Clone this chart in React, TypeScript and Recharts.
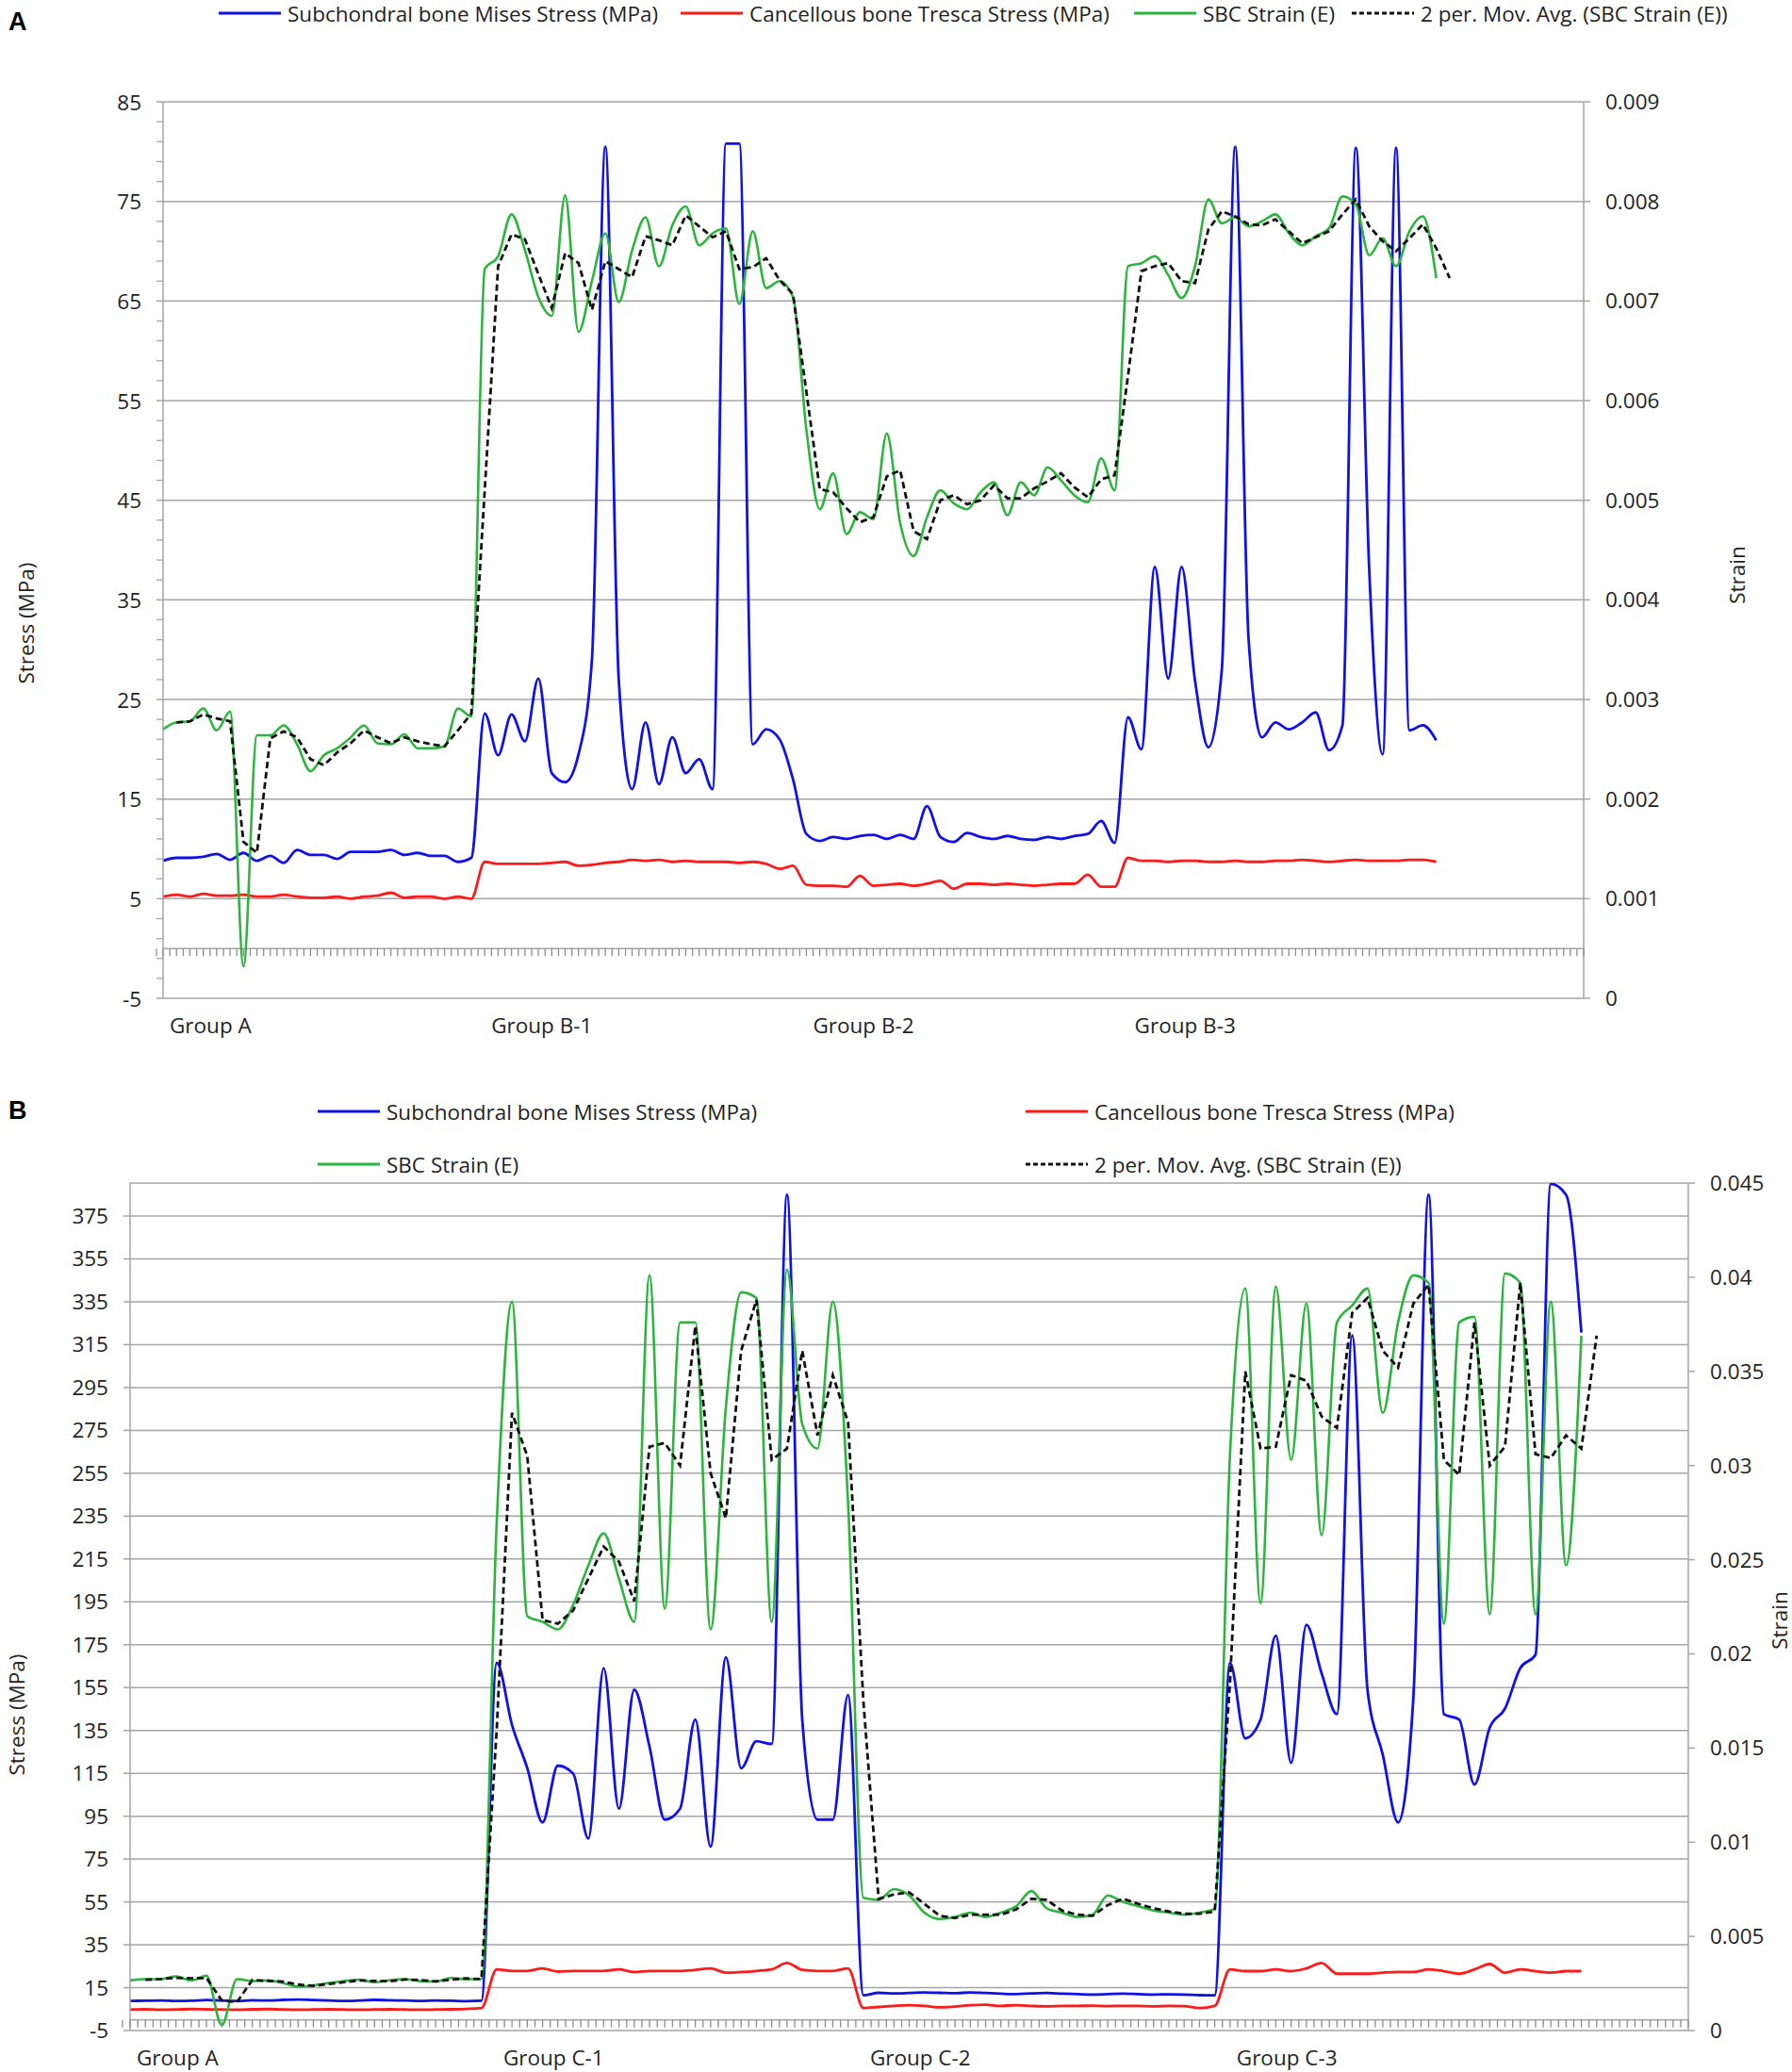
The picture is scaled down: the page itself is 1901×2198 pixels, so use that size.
import React from 'react';
import { ComposedChart, Line, XAxis, YAxis, CartesianGrid, ReferenceLine } from 'recharts';

const FONT = "'Open Sans', 'Noto Sans', sans-serif";
const TEXT = '#1f1f1f';
const GRID = '#a5a5a5';
const BLUE = '#1010e8';
const RED = '#ff1a1a';
const GREEN = '#2cb53c';

const seriesNames = [
  'Subchondral bone Mises Stress (MPa)',
  'Cancellous bone Tresca Stress (MPa)',
  'SBC Strain (E)',
  '2 per. Mov. Avg. (SBC Strain (E))',
];

// ---- panel A ----
const groupsA = ['Group A', 'Group B-1', 'Group B-2', 'Group B-3'];
const stressTicksA = [-5, 5, 15, 25, 35, 45, 55, 65, 75, 85];
const strainTicksA = [0, 0.001, 0.002, 0.003, 0.004, 0.005, 0.006, 0.007, 0.008, 0.009];

const misesA = [
  8.8, 9.1, 9.1, 9.2, 9.5, 8.9, 9.6, 8.8, 9.3, 8.6, 9.9, 9.4, 9.4, 9.0, 9.7, 9.7, 9.7, 9.9, 9.4, 9.6, 9.3, 9.3, 8.7, 9.1,
  23.6, 19.4, 23.5, 20.8, 27.1, 17.6, 16.7, 19.5, 29.0, 80.5, 27.0, 16.0, 22.7, 16.5, 21.2, 17.6, 19.0, 16.0, 80.8, 80.8, 20.5, 22.0, 21.0, 17.0,
  11.5, 10.8, 11.2, 11.0, 11.3, 11.4, 11.0, 11.4, 11.0, 14.3, 11.2, 10.7, 11.6, 11.2, 11.0, 11.3, 11.0, 10.9, 11.2, 11.0, 11.3, 11.5, 12.8, 10.6,
  23.2, 20.0, 38.3, 27.1, 38.3, 26.9, 20.2, 28.0, 80.5, 31.0, 21.2, 22.7, 22.0, 22.7, 23.7, 19.9, 22.4, 80.4, 38.0, 19.5, 80.4, 21.9, 22.4, 20.9,
];

const trescaA = [
  5.2, 5.4, 5.2, 5.5, 5.3, 5.3, 5.4, 5.2, 5.2, 5.4, 5.2, 5.1, 5.1, 5.2, 5.0, 5.2, 5.3, 5.6, 5.1, 5.2, 5.2, 5.0, 5.2, 5.0,
  8.7, 8.5, 8.5, 8.5, 8.5, 8.6, 8.7, 8.3, 8.4, 8.6, 8.7, 8.9, 8.8, 8.9, 8.7, 8.8, 8.7, 8.7, 8.7, 8.6, 8.7, 8.5, 8.0, 8.3,
  6.4, 6.3, 6.3, 6.2, 7.3, 6.3, 6.4, 6.5, 6.3, 6.5, 6.8, 6.0, 6.5, 6.5, 6.4, 6.5, 6.4, 6.3, 6.4, 6.5, 6.5, 7.4, 6.2, 6.2,
  9.1, 8.8, 8.8, 8.7, 8.8, 8.8, 8.7, 8.7, 8.8, 8.7, 8.7, 8.8, 8.8, 8.9, 8.8, 8.7, 8.8, 8.9, 8.8, 8.8, 8.8, 8.9, 8.9, 8.7,
];

const strainA = [
  0.0027, 0.00277, 0.00278, 0.00291, 0.00269, 0.00288, 0.00032, 0.00264, 0.00264, 0.00274, 0.00255, 0.00228,
  0.00244, 0.00251, 0.00262, 0.00274, 0.00256, 0.00255, 0.00265, 0.00251, 0.00251, 0.00253, 0.00291, 0.00283,
  0.00732, 0.00745, 0.00787, 0.00751, 0.00704, 0.00685, 0.00806, 0.00669, 0.0072, 0.00768, 0.00699, 0.00751,
  0.00784, 0.00735, 0.00776, 0.00795, 0.00756, 0.00768, 0.00773, 0.00697, 0.0077, 0.00713, 0.0072, 0.00704,
  0.00571, 0.00491, 0.00527, 0.00466, 0.00488, 0.00481, 0.00567, 0.00477, 0.00444, 0.00483, 0.0051, 0.00497,
  0.00491, 0.00508, 0.00518, 0.00485, 0.00518, 0.00505, 0.00533, 0.0052, 0.00505, 0.00498, 0.00542, 0.0051,
  0.00735, 0.00738, 0.00745, 0.00726, 0.00703, 0.00735, 0.00802, 0.00778, 0.00784, 0.00775, 0.0078, 0.00787,
  0.00768, 0.00756, 0.00765, 0.00773, 0.00805, 0.00797, 0.00746, 0.00763, 0.00735, 0.0077, 0.00785, 0.00723,
];

const strainAvgA = [
  null, 0.00277, 0.00278, 0.00285, 0.00281, 0.00278, 0.00157, 0.00146, 0.00261, 0.00268, 0.00262, 0.0024,
  0.00234, 0.00247, 0.00256, 0.00269, 0.00262, 0.00256, 0.00262, 0.00258, 0.00255, 0.00253, 0.00269, 0.00286,
  0.0051, 0.00735, 0.00767, 0.00762, 0.00727, 0.00693, 0.00748, 0.00738, 0.00691, 0.0074, 0.00732, 0.00724,
  0.00765, 0.00761, 0.00756, 0.00786, 0.00775, 0.00764, 0.0077, 0.00732, 0.00734, 0.00743, 0.00721, 0.00707,
  0.00609, 0.00511, 0.00508, 0.00492, 0.00478, 0.00483, 0.00524, 0.0053, 0.00469, 0.00461, 0.005, 0.00505,
  0.00496, 0.005, 0.00515, 0.00502, 0.00502, 0.00512, 0.00519, 0.00527, 0.00513, 0.00503, 0.00521, 0.00525,
  0.00625, 0.0073, 0.00735, 0.00738, 0.0072, 0.00718, 0.00772, 0.0079, 0.00785, 0.00777, 0.00776, 0.00782,
  0.0077, 0.00758, 0.00764, 0.0077, 0.00787, 0.00802, 0.00775, 0.0076, 0.0075, 0.00763, 0.00777, 0.00753, 0.00723,
];

// ---- panel B ----
const groupsB = ['Group A', 'Group C-1', 'Group C-2', 'Group C-3'];
const stressTicksB = [-5, 15, 35, 55, 75, 95, 115, 135, 155, 175, 195, 215, 235, 255, 275, 295, 315, 335, 355, 375];
const strainTicksB = [0, 0.005, 0.01, 0.015, 0.02, 0.025, 0.03, 0.035, 0.04, 0.045];

const misesB = [
  8.8, 8.9, 9.0, 8.8, 8.9, 9.2, 9.0, 8.8, 9.1, 9.0, 9.3, 9.5, 9.2, 9.0, 8.8, 9.0, 9.3, 9.1, 9.0, 8.8, 9.0, 8.9, 8.7, 8.9,
  166.6, 137.6, 117.4, 92.1, 118.6, 114.9, 84.6, 164.1, 98.5, 154.0, 127.5, 93.4, 98.5, 140.1, 80.8, 169.1, 117.4, 130.0, 128.7, 384.9, 140.0, 93.4, 93.4, 151.5,
  11.4, 12.6, 12.3, 12.5, 12.8, 12.6, 12.4, 12.8, 12.5, 12.2, 12.0, 12.3, 12.5, 12.2, 12.0, 11.8, 12.0, 12.2, 12.0, 11.8, 11.9, 11.8, 11.5, 11.4,
  166.6, 131.3, 140.1, 179.2, 119.9, 184.3, 161.6, 142.6, 319.3, 154.0, 123.7, 92.1, 150.0, 384.9, 142.6, 140.1, 109.8, 136.3, 145.2, 164.1, 170.4, 390.0, 384.9, 320.6,
];

const trescaB = [
  4.8, 4.9, 4.7, 4.8, 5.0, 4.9, 4.8, 4.7, 4.9, 5.0, 4.8, 4.7, 4.8, 4.9, 4.8, 4.7, 4.8, 4.9, 4.8, 4.7, 4.8, 4.9, 5.1, 5.5,
  23.5, 22.8, 22.8, 24.0, 22.5, 22.8, 22.8, 22.8, 23.5, 22.3, 22.8, 22.8, 22.8, 23.3, 24.0, 22.0, 22.3, 22.8, 23.5, 26.5, 23.3, 22.8, 22.8, 24.0,
  5.5, 6.0, 6.5, 6.8, 6.5, 5.8, 6.2, 6.8, 7.0, 6.5, 6.8, 6.5, 6.3, 6.5, 6.5, 6.6, 6.4, 6.5, 6.5, 6.3, 6.5, 6.4, 5.5, 6.5,
  23.5, 22.7, 22.7, 23.5, 22.7, 24.0, 26.5, 21.5, 21.5, 21.5, 22.0, 22.3, 22.3, 23.5, 22.7, 21.5, 23.5, 26.0, 22.0, 23.5, 22.7, 22.0, 22.7, 22.7,
];

const strainB = [
  0.00266, 0.00273, 0.00273, 0.00287, 0.00266, 0.00291, 0.00028, 0.00273, 0.00262, 0.00266, 0.00253, 0.00233,
  0.0024, 0.00253, 0.00262, 0.0027, 0.00256, 0.00268, 0.00273, 0.00262, 0.0026, 0.00279, 0.00273, 0.00273,
  0.027, 0.0387, 0.022, 0.0217, 0.0213, 0.0226, 0.0247, 0.0264, 0.024, 0.0217, 0.0401, 0.0224,
  0.0376, 0.0376, 0.0213, 0.0331, 0.0392, 0.0389, 0.0217, 0.0404, 0.0322, 0.0309, 0.0387, 0.028,
  0.00704, 0.00694, 0.00751, 0.00717, 0.00626, 0.00592, 0.00603, 0.00626, 0.00603, 0.00626, 0.0066, 0.0074,
  0.00649, 0.00626, 0.00603, 0.00615, 0.00717, 0.00683, 0.0066, 0.00637, 0.00626, 0.00615, 0.00626, 0.00646,
  0.0306, 0.0394, 0.0227, 0.0395, 0.0303, 0.0386, 0.0263, 0.0376, 0.0385, 0.0394, 0.0328, 0.0376,
  0.0401, 0.0397, 0.0216, 0.0376, 0.0379, 0.0221, 0.0402, 0.0397, 0.0221, 0.0387, 0.0247, 0.0369,
];

const strainAvgB = [
  null, 0.0027, 0.00273, 0.0028, 0.00277, 0.00279, 0.0016, 0.00151, 0.00268, 0.00264, 0.0026, 0.00244,
  0.00237, 0.00247, 0.00257, 0.00266, 0.00263, 0.00262, 0.00271, 0.00268, 0.00261, 0.0027, 0.00277, 0.00273,
  0.016, 0.0328, 0.0305, 0.0218, 0.0216, 0.0223, 0.024, 0.0257, 0.0249, 0.0228, 0.031, 0.0312,
  0.03, 0.0374, 0.0296, 0.0272, 0.0361, 0.0388, 0.0303, 0.0309, 0.0361, 0.0316, 0.0348, 0.0323,
  0.0175, 0.00699, 0.00723, 0.00734, 0.00672, 0.00609, 0.00598, 0.00615, 0.00615, 0.00615, 0.00643, 0.007,
  0.00694, 0.00637, 0.00615, 0.00609, 0.00666, 0.007, 0.00672, 0.00649, 0.00632, 0.0062, 0.0062, 0.00632,
  0.0185, 0.035, 0.0309, 0.031, 0.0348, 0.0345, 0.0326, 0.032, 0.0381, 0.0389, 0.0361, 0.0352,
  0.0386, 0.0396, 0.0303, 0.0295, 0.0376, 0.03, 0.031, 0.0397, 0.0306, 0.0304, 0.0316, 0.0309, 0.0369,
];

// layout of both panels (pixels)
const POINTS_PER_GROUP = 24;
const PANEL_A = { top: 0, height: 1110, left: 173, right: 221, plotTop: 108, plotH: 951, axisH: 51, count: 107, stressDomain: [-5, 85], strainDomain: [0, 0.009] };
const PANEL_B = { top: 1150, height: 1048, left: 138, right: 110, plotTop: 105, plotH: 899, axisH: 44, count: 103, stressDomain: [-5, 390.4], strainDomain: [0, 0.045] };

const buildRows = (count: number, mises: number[], tresca: number[], strain: number[], avg: (number | null)[]) =>
  Array.from({ length: count }, (_, i) => ({
    idx: i,
    mises: mises[i] ?? null,
    tresca: tresca[i] ?? null,
    strain: strain[i] ?? null,
    avg: avg[i] ?? null,
  }));

const CategoryTick = (props: any) => {
  const { x, y, payload, groups, step, zeroOffset } = props;
  const i = Number(payload.value);
  const y0 = y - zeroOffset;
  const label = i % POINTS_PER_GROUP === 0 ? groups[i / POINTS_PER_GROUP] : undefined;
  return (
    <g>
      <line x1={x - step / 2} x2={x - step / 2} y1={y0} y2={y0 + 8} stroke="#8c8c8c" strokeWidth={1.3} />
      <line x1={x} x2={x} y1={y0} y2={y0 + 8} stroke="#8c8c8c" strokeWidth={1.3} />
      {label && (
        <text x={x + 7} y={y + 28} dominantBaseline="central" fontSize={22.5} fill={TEXT} fontFamily={FONT}>
          {label}
        </text>
      )}
    </g>
  );
};

const StressTickA = (props: any) => {
  const { x, y, payload } = props;
  const minorStep = (PANEL_A.plotH / 90) * 2;
  const minors = payload.value < 85 ? [1, 2, 3, 4] : [];
  return (
    <g>
      {minors.map((k) => (
        <line key={k} x1={PANEL_A.left - 7} x2={PANEL_A.left} y1={y - k * minorStep} y2={y - k * minorStep} stroke={GRID} strokeWidth={1.3} />
      ))}
      <text x={x} y={y} textAnchor="end" dominantBaseline="central" fontSize={22.5} fill={TEXT} fontFamily={FONT}>
        {payload.value}
      </text>
    </g>
  );
};

const LegendItem = ({ left, cy, color, dashed, text }: any) => (
  <div style={{ position: 'absolute', left, top: cy - 15, height: 30, display: 'flex', alignItems: 'center', whiteSpace: 'nowrap' }}>
    <svg width={66} height={6}>
      <line x1={0} x2={66} y1={3} y2={3} stroke={color} strokeWidth={3} strokeDasharray={dashed ? '5 3' : undefined} />
    </svg>
    <span style={{ marginLeft: 7, fontSize: 22.5, color: TEXT }}>{text}</span>
  </div>
);

const VTitle = ({ cx, cy, text }: any) => (
  <div style={{ position: 'absolute', left: cx, top: cy, transform: 'translate(-50%, -50%) rotate(-90deg)', fontSize: 22.5, color: TEXT, whiteSpace: 'nowrap' }}>
    {text}
  </div>
);

const Panel = ({ cfg, rows, groups, stressTicks, strainTicks, stressTick }: any) => {
  const plotW = 1901 - cfg.left - cfg.right;
  const [sMin, sMax] = cfg.stressDomain;
  const zeroOffset = (cfg.plotH * (0 - sMin)) / (sMax - sMin);
  return (
    <div style={{ position: 'absolute', left: 0, top: cfg.top }}>
      <ComposedChart width={1901} height={cfg.height} data={rows} margin={{ top: cfg.plotTop, right: 0, bottom: 0, left: 0 }}>
        <CartesianGrid yAxisId="left" vertical={false} stroke={GRID} strokeWidth={1.5} />
        <XAxis
          dataKey="idx"
          type="category"
          interval={0}
          height={cfg.axisH}
          axisLine={false}
          tickLine={false}
          tickSize={0}
          tickMargin={0}
          tick={<CategoryTick groups={groups} step={plotW / cfg.count} zeroOffset={zeroOffset} />}
        />
        <YAxis
          yAxisId="left"
          orientation="left"
          width={cfg.left}
          domain={cfg.stressDomain}
          allowDataOverflow
          ticks={stressTicks}
          interval={0}
          tickSize={7}
          tickMargin={16}
          axisLine={{ stroke: GRID, strokeWidth: 1.5 }}
          tickLine={{ stroke: GRID, strokeWidth: 1.5 }}
          tick={stressTick ? stressTick : { fontSize: 22.5, fill: TEXT, fontFamily: FONT }}
        />
        <YAxis
          yAxisId="right"
          orientation="right"
          width={cfg.right}
          domain={cfg.strainDomain}
          allowDataOverflow
          ticks={strainTicks}
          interval={0}
          tickSize={7}
          tickMargin={16}
          axisLine={{ stroke: GRID, strokeWidth: 1.5 }}
          tickLine={{ stroke: GRID, strokeWidth: 1.5 }}
          tick={{ fontSize: 22.5, fill: TEXT, fontFamily: FONT }}
        />
        <ReferenceLine yAxisId="left" y={0} stroke={GRID} strokeWidth={1.5} />
        <Line yAxisId="left" dataKey="mises" type="monotone" stroke={BLUE} strokeWidth={2.8} dot={false} activeDot={false} isAnimationActive={false} />
        <Line yAxisId="left" dataKey="tresca" type="monotone" stroke={RED} strokeWidth={2.8} dot={false} activeDot={false} isAnimationActive={false} />
        <Line yAxisId="right" dataKey="strain" type="monotone" stroke={GREEN} strokeWidth={2.6} dot={false} activeDot={false} isAnimationActive={false} />
        <Line yAxisId="right" dataKey="avg" type="linear" stroke="#111" strokeWidth={2.8} strokeDasharray="7 4" dot={false} activeDot={false} isAnimationActive={false} />
      </ComposedChart>
    </div>
  );
};

const App = () => {
  const rowsA = buildRows(PANEL_A.count, misesA, trescaA, strainA, strainAvgA);
  const rowsB = buildRows(PANEL_B.count, misesB, trescaB, strainB, strainAvgB);
  return (
    <div style={{ position: 'absolute', left: 0, top: 0, width: 1901, height: 2198, background: '#fff', fontFamily: FONT, color: TEXT, overflow: 'hidden' }}>
      <Panel cfg={PANEL_A} rows={rowsA} groups={groupsA} stressTicks={stressTicksA} strainTicks={strainTicksA} stressTick={<StressTickA />} />
      <Panel cfg={PANEL_B} rows={rowsB} groups={groupsB} stressTicks={stressTicksB} strainTicks={strainTicksB} />

      <div style={{ position: 'absolute', left: 9, top: 8, fontFamily: "'Liberation Sans', Arial, sans-serif", fontWeight: 700, fontSize: 27, color: '#000' }}>A</div>
      <div style={{ position: 'absolute', left: 9, top: 1163, fontFamily: "'Liberation Sans', Arial, sans-serif", fontWeight: 700, fontSize: 27, color: '#000' }}>B</div>

      <LegendItem left={232} cy={14} color={BLUE} text={seriesNames[0]} />
      <LegendItem left={722} cy={14} color={RED} text={seriesNames[1]} />
      <LegendItem left={1203} cy={14} color={GREEN} text={seriesNames[2]} />
      <LegendItem left={1434} cy={14} color="#111" dashed text={seriesNames[3]} />

      <LegendItem left={337} cy={1179} color={BLUE} text={seriesNames[0]} />
      <LegendItem left={1088} cy={1179} color={RED} text={seriesNames[1]} />
      <LegendItem left={337} cy={1235} color={GREEN} text={seriesNames[2]} />
      <LegendItem left={1088} cy={1235} color="#111" dashed text={seriesNames[3]} />

      <VTitle cx={27} cy={661} text="Stress (MPa)" />
      <VTitle cx={1842} cy={610} text="Strain" />
      <VTitle cx={17} cy={1819} text="Stress (MPa)" />
      <VTitle cx={1887} cy={1719} text="Strain" />
    </div>
  );
};

export default App;
